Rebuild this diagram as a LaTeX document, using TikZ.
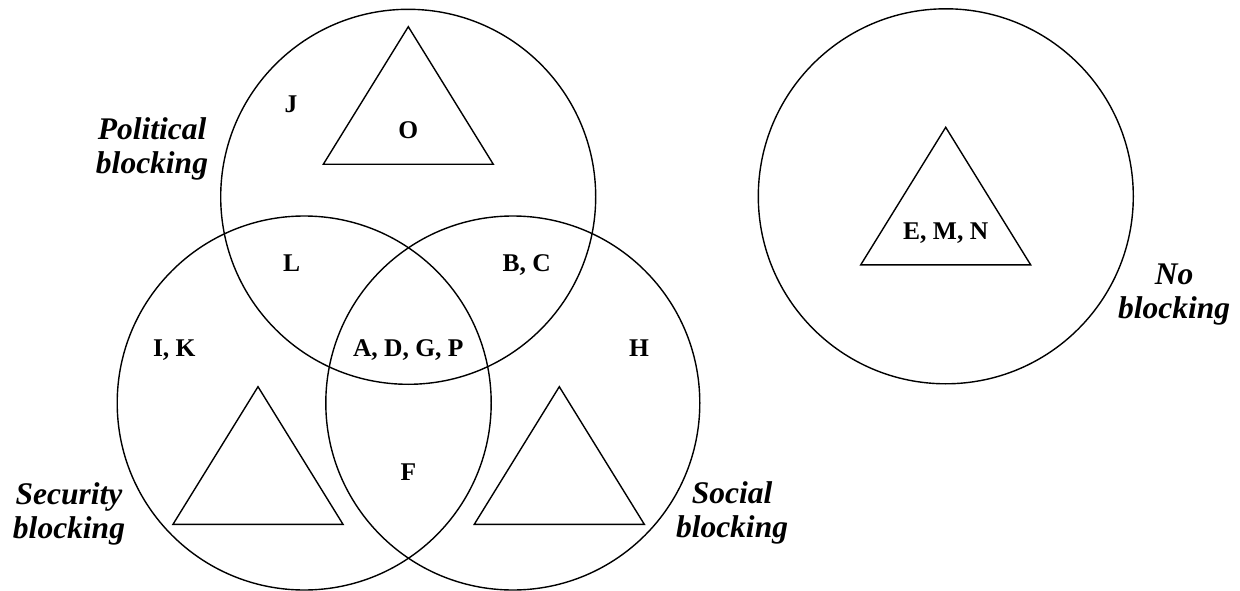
\documentclass[tikz,border=0pt]{standalone}
\usepackage{fontspec}
\setmainfont{Liberation Serif}
\begin{document}
\begin{tikzpicture}[x=1pt,y=-1pt,
  setline/.style={line width=1.4pt,black},
  member/.style={font=\fontsize{25.5}{28}\selectfont\bfseries,inner sep=0pt,anchor=base},
  setname/.style={font=\fontsize{31.5}{34}\selectfont\bfseries\itshape,align=center,inner sep=0pt,anchor=base}]
\useasboundingbox (0,0) rectangle (1240,591);
% circles
\coordinate (cpol) at (408.2,196.8);
\coordinate (csec) at (304.2,403);
\coordinate (csoc) at (512.8,403);
\coordinate (cno) at (945.8,196.3);
\draw[setline] (cpol) circle[radius=187.5];
\draw[setline] (csec) circle[radius=187];
\draw[setline] (csoc) circle[radius=187];
\draw[setline] (cno) circle[radius=187.5];
% triangles
\coordinate (tpol) at (408.3,26.7);
\coordinate (tsec) at (258,386.7);
\coordinate (tsoc) at (559.3,386.7);
\coordinate (tno) at (945.7,127.3);
\foreach \t in {tpol,tsec,tsoc,tno}
  \draw[setline,line join=miter] (\t) -- ++(85,137.6) -- ++(-170,0) -- cycle;
% members
\node[member] (j) at (291,112.3) {J};
\node[member] (o) at (408.3,138.3) {O};
\node[member] (l) at (291.7,271.7) {L};
\node[member] (bc) at (526.7,271.7) {B, C};
\node[member] (ik) at (174.3,356.7) {I, K};
\node[member] (adgp) at (408.3,356.7) {A, D, G, P};
\node[member] (h) at (639,356.7) {H};
\node[member] (f) at (408.3,480.7) {F};
\node[member] (emn) at (945.7,239.3) {E, M, N};
% set names (base anchor = baseline of the last line)
\node[setname] (pol) at (152,173.3) {Political\\blocking};
\node[setname] (sec) at (69,538.3) {Security\\blocking};
\node[setname] (soc) at (732,537.7) {Social\\blocking};
\node[setname] (no) at (1174,318.3) {No\\blocking};
\end{tikzpicture}
\end{document}
